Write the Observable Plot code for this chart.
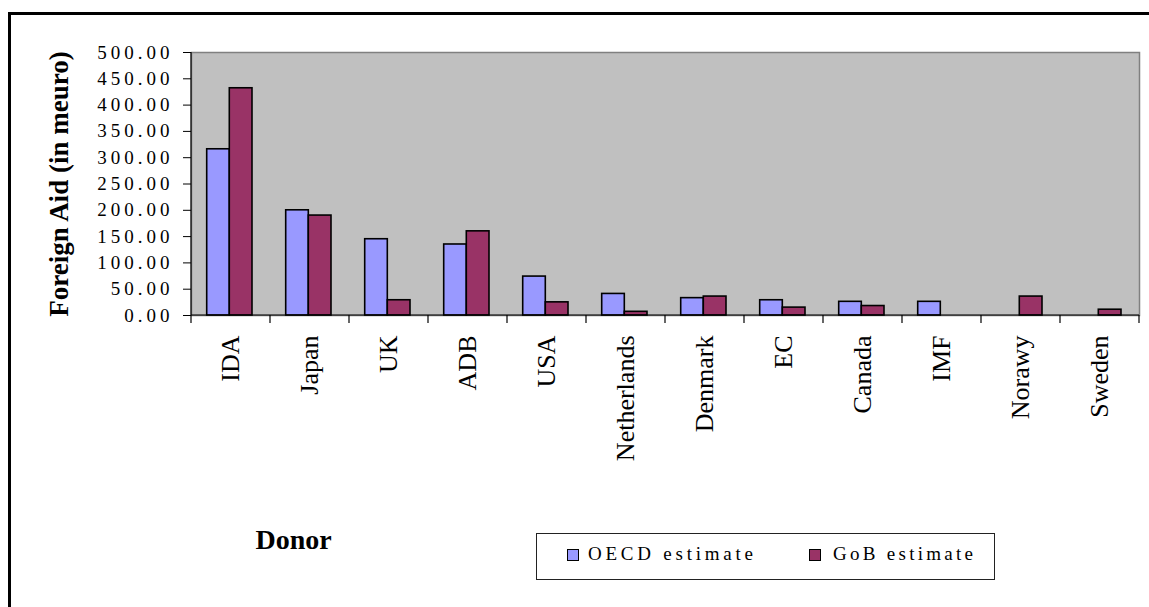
<!DOCTYPE html>
<html>
<head>
<meta charset="utf-8">
<script src="https://cdn.jsdelivr.net/npm/d3@7"></script>
<script src="https://cdn.jsdelivr.net/npm/@observablehq/plot@0.6"></script>
<style>
  html, body { margin: 0; padding: 0; background: #fff; overflow: hidden; }
  #page { position: relative; width: 1149px; height: 607px; overflow: hidden; background: #fff; font-family: "Liberation Serif", "Times New Roman", serif; }
  #chart { position: absolute; left: 0; top: 0; }
  #cover { position: absolute; left: 1142px; top: 16px; width: 20px; height: 600px; background: #fff; z-index: 10; }
</style>
</head>
<body>
<div id="page">
  <div id="chart"></div>
  <div id="cover"></div>
</div>
<script>
// ---- data ----
const donors = ["IDA", "Japan", "UK", "ADB", "USA", "Netherlands", "Denmark", "EC", "Canada", "IMF", "Norawy", "Sweden"];
const oecdEstimate = [316, 200, 145, 135, 74, 41, 33, 29, 26, 26, null, null];
const gobEstimate  = [432, 190, 29, 160, 25, 7, 36, 15, 18, null, 36, 11];
const seriesNames = ["OECD estimate", "GoB estimate"];
const seriesColors = ["#9999FF", "#993366"];
const yTicks = [0, 50, 100, 150, 200, 250, 300, 350, 400, 450, 500];
const yLabel = "Foreign Aid (in meuro)";
const xLabel = "Donor";

const rows = donors.flatMap((d, i) => [
  {donor: d, series: seriesNames[0], value: oecdEstimate[i]},
  {donor: d, series: seriesNames[1], value: gobEstimate[i]}
]).filter(r => r.value != null);

// outer document frame (top and left edges only)
const page = d3.select("#page");
const outer = page.append("svg").attr("width", 1149).attr("height", 607)
  .style("position", "absolute").style("left", "0px").style("top", "0px").style("z-index", 11).style("pointer-events", "none");
outer.append("line").attr("x1", 9.5).attr("x2", 9.5).attr("y1", 12).attr("y2", 607).attr("stroke", "#000").attr("stroke-width", 3);
outer.append("line").attr("x1", 8).attr("x2", 1149).attr("y1", 13.5).attr("y2", 13.5).attr("stroke", "#000").attr("stroke-width", 3);

// boundary ticks + axis lines drawn through Plot's scales
const boundaryMark = (index, scales, values, dim) => {
  const g = d3.create("svg:g").attr("stroke", "#000").attr("stroke-width", 1.2).attr("fill", "none");
  const y0 = scales.y(0), yTop = scales.y(yTicks[yTicks.length - 1]);
  const left = dim.marginLeft, right = dim.width - dim.marginRight;
  const xs = donors.map(d => scales.x(d));
  xs.push(right);
  g.append("line").attr("x1", left).attr("x2", right).attr("y1", y0).attr("y2", y0);
  g.append("line").attr("x1", left).attr("x2", left).attr("y1", yTop).attr("y2", y0);
  xs.forEach(x => g.append("line").attr("x1", x).attr("x2", x).attr("y1", y0).attr("y2", y0 + 8));
  return g.node();
};

const chart = Plot.plot({
  width: 1149, height: 607,
  marginLeft: 191, marginRight: 10, marginTop: 52, marginBottom: 292,
  style: {fontFamily: '"Liberation Serif", "Times New Roman", serif', fontSize: "19px", color: "#000", background: "transparent"},
  x: {domain: donors, padding: 0, label: null},
  y: {domain: [0, 500], label: null},
  marks: [
    Plot.frame({fill: "#C0C0C0", stroke: "#808080", strokeWidth: 1.5}),
    Plot.barY(rows.filter(r => r.series === seriesNames[0]), {x: "donor", y: "value", fill: seriesColors[0], stroke: "#000", strokeWidth: 1.6, insetLeft: 15.7, insetRight: 40.7}),
    Plot.barY(rows.filter(r => r.series === seriesNames[1]), {x: "donor", y: "value", fill: seriesColors[1], stroke: "#000", strokeWidth: 1.6, insetLeft: 38.3, insetRight: 18}),
    boundaryMark,
    Plot.axisY({ticks: yTicks, tickFormat: d3.format(".2f"), tickSize: 8, tickPadding: 10, label: null, fontSize: 19}),
    Plot.axisX({tickSize: 0, tickPadding: 20, tickRotate: -90, label: null, fontSize: 26}),
    Plot.text([yLabel], {text: d => d, frameAnchor: "left", dx: -124, rotate: -90, textAnchor: "middle", lineAnchor: "bottom", fontSize: 27, fontWeight: "bold", ariaLabel: "y-title"}),
    Plot.text([xLabel], {text: d => d, frameAnchor: "bottom-left", dx: 64, dy: 233, textAnchor: "start", lineAnchor: "bottom", fontSize: 28, fontWeight: "bold", ariaLabel: "x-title"})
  ]
});

const sel = d3.select(chart);
sel.selectAll('g[aria-label="y-axis tick label"] text').attr("font-size", 19).style("letter-spacing", "4px");
sel.selectAll('g[aria-label="x-axis tick label"] text').attr("font-size", 26);
sel.select('g[aria-label="y-title"] text').attr("textLength", 292).attr("lengthAdjust", "spacing");
sel.select('g[aria-label="x-title"] text').attr("textLength", 95).attr("lengthAdjust", "spacing");
document.getElementById("chart").appendChild(chart);

// ---- legend ----
const leg = d3.create("svg").attr("width", 461).attr("height", 49)
  .style("position", "absolute").style("left", "535px").style("top", "532px")
  .style("font-family", '"Liberation Serif", "Times New Roman", serif');
leg.append("rect").attr("x", 1.5).attr("y", 1.5).attr("width", 458).attr("height", 46).attr("fill", "#fff").attr("stroke", "#222").attr("stroke-width", 1);
const legPos = [{sx: 32, tx: 53, len: 165}, {sx: 274, tx: 298, len: 140}];
seriesNames.forEach((name, i) => {
  leg.append("rect").attr("x", legPos[i].sx + 0.5).attr("y", 17.5).attr("width", 11).attr("height", 11)
    .attr("fill", seriesColors[i]).attr("stroke", "#000").attr("stroke-width", 1);
  leg.append("text").attr("x", legPos[i].tx).attr("y", 28).attr("font-size", 19).attr("fill", "#000")
    .attr("textLength", legPos[i].len).attr("lengthAdjust", "spacing").text(name);
});
document.getElementById("page").appendChild(leg.node());
</script>
</body>
</html>
